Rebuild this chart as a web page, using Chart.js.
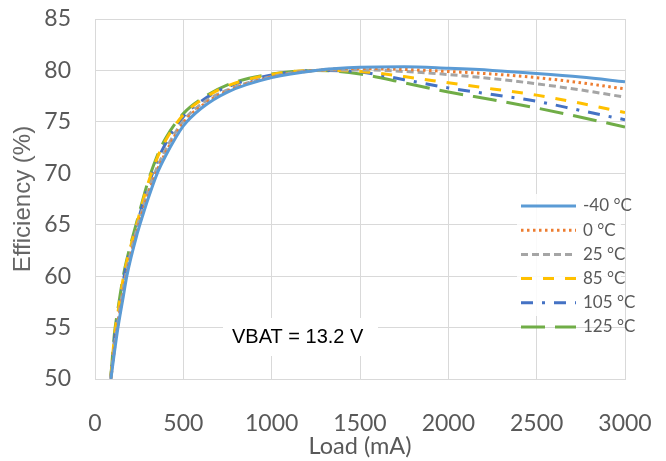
<!DOCTYPE html>
<html>
<head>
<meta charset="utf-8">
<script src="https://cdn.jsdelivr.net/npm/chart.js@4.4.1/dist/chart.umd.min.js"></script>
<style>
  html, body { margin: 0; padding: 0; background: #fff; }
  #wrap { width: 666px; height: 461px; }
</style>
</head>
<body>
<div id="wrap"><canvas id="effChart"></canvas></div>
<script>
// -------------------------------------------------------------------------- Data
const loads = [90, 110, 130, 160, 180, 240, 270, 300, 350, 400, 500, 600, 750, 1000, 1250, 1500, 1750, 2000, 2250, 2500, 2750, 3000]

const effM40 = [50.0, 52.6, 55.0, 58.0, 60.0, 64.2, 65.9, 67.5, 69.9, 71.7, 74.6, 76.3, 77.9, 79.3, 80.0, 80.3, 80.35, 80.2, 80.0, 79.7, 79.35, 78.9]
const eff0   = [50.0, 52.9, 55.3, 58.4, 60.3, 64.5, 66.3, 67.9, 70.2, 72.0, 74.9, 76.5, 78.0, 79.35, 80.0, 80.2, 80.1, 79.9, 79.65, 79.3, 78.8, 78.2]
const eff25  = [50.1, 53.2, 55.6, 58.8, 60.6, 64.8, 66.6, 68.2, 70.5, 72.3, 75.1, 76.7, 78.1, 79.4, 80.0, 80.05, 79.9, 79.6, 79.2, 78.7, 78.1, 77.4]
const eff85  = [50.2, 54.1, 56.5, 59.8, 61.4, 65.3, 67.2, 69.0, 71.4, 73.2, 75.7, 77.1, 78.5, 79.6, 80.0, 79.9, 79.4, 78.8, 78.2, 77.6, 76.8, 75.9]
const eff105 = [50.2, 53.8, 56.2, 59.5, 61.2, 65.1, 67.0, 68.7, 71.1, 72.9, 75.5, 77.0, 78.4, 79.55, 80.0, 79.85, 79.1, 78.3, 77.65, 77.0, 76.1, 75.2]
const eff125 = [50.3, 54.4, 56.8, 60.0, 61.6, 65.5, 67.4, 69.2, 71.6, 73.4, 75.8, 77.2, 78.6, 79.65, 80.0, 79.65, 78.8, 77.9, 77.15, 76.35, 75.45, 74.5]

const seriesLabels = ['-40 °C', '0 °C', '25 °C', '85 °C', '105 °C', '125 °C']
const seriesData = [effM40, eff0, eff25, eff85, eff105, eff125]

let grid = '#d9d9d9'
let tickGrey = '#595959'
const colors = ['#5b9bd5', '#ed7d31', '#a5a5a5', '#ffc000', '#4472c4', '#70ad47']
const dashes = [[], [2.5, 3.5], [7, 4], [11, 11], [12, 9, 3, 9], [24, 10]]

const toPoints = arr => loads.map((x, i) => ({ x: x, y: arr[i] }))

// -------------------------------------------------------------------------- Custom legend + note
const legendAndNote = {
    id: 'legendAndNote',
    afterDatasetsDraw(chart) {
        const ctx = chart.ctx
        ctx.save()
        // VBAT note
        ctx.fillStyle = 'rgba(255,255,255,1)'
        ctx.fillRect(223, 318, 155, 38)
        ctx.fillStyle = '#000'
        ctx.font = '20px "Liberation Sans", Arial, sans-serif'
        ctx.textBaseline = 'middle'
        ctx.textAlign = 'left'
        ctx.fillText('VBAT = 13.2 V', 232, 337)

        // legend
        ctx.fillStyle = 'rgba(255,255,255,0.85)'
        ctx.fillRect(517, 194, 104, 122)
        ctx.font = '17px Lato, sans-serif'
        chart.data.datasets.forEach((ds, i) => {
            const y = 206 + i * 24.2
            ctx.strokeStyle = ds.borderColor
            ctx.lineWidth = 3
            ctx.setLineDash(ds.borderDash)
            ctx.beginPath()
            ctx.moveTo(521, y)
            ctx.lineTo(576, y)
            ctx.stroke()
            ctx.setLineDash([])
            ctx.fillStyle = tickGrey
            ctx.fillText(ds.label, 583, y)
        })
        ctx.restore()
    }
}

// -------------------------------------------------------------------------- Chart config
const configEff = {
    type: 'line',
    data: {
        datasets: seriesData.map((arr, i) => ({
            label: seriesLabels[i],
            data: toPoints(arr),
            borderColor: colors[i],
            borderWidth: 3,
            borderDash: dashes[i],
            pointRadius: 0,
            fill: false,
            cubicInterpolationMode: 'monotone'
        }))
    },
    options: {
        responsive: true,
        maintainAspectRatio: false,
        animation: false,
        layout: { padding: { top: 19, right: 41, left: 0, bottom: 0 } },
        plugins: {
            legend: { display: false },
            tooltip: { enabled: false }
        },
        scales: {
            x: {
                type: 'linear',
                min: 0,
                max: 3000,
                afterFit: s => { s.height = 82; s.paddingLeft = 0; s.paddingRight = 0 },
                grid: { color: grid, drawTicks: false },
                border: { color: grid },
                ticks: { stepSize: 500, padding: 31, color: tickGrey, font: { family: 'Lato', size: 23 }, callback: v => String(v) },
                title: { display: true, text: 'Load (mA)', color: tickGrey, font: { family: 'Lato', size: 23.5 }, padding: { top: 0, bottom: 0 } }
            },
            y: {
                min: 50,
                max: 85,
                afterFit: s => { s.width = 95; s.paddingTop = 0; s.paddingBottom = 0 },
                grid: { color: grid, drawTicks: false },
                border: { color: grid },
                ticks: { stepSize: 5, padding: 24, color: tickGrey, font: { family: 'Lato', size: 23 } },
                title: { display: true, text: 'Efficiency (%)', color: '#666666', font: { family: '"Liberation Sans", Arial, sans-serif', size: 24 }, padding: { top: 9, bottom: 0 } }
            }
        }
    },
    plugins: [legendAndNote]
}

let effChart = new Chart(document.getElementById('effChart'), configEff)
</script>
</body>
</html>
